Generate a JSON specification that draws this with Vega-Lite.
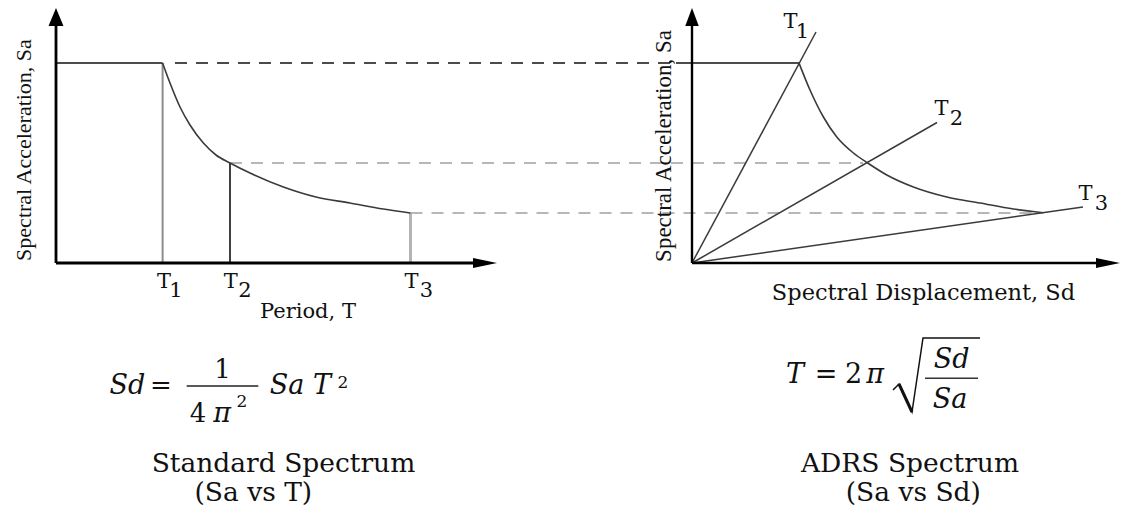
{
  "$schema": "https://vega.github.io/schema/vega-lite/v6.json",
  "width": 1126,
  "height": 511,
  "padding": 0,
  "autosize": {"type": "none"},
  "background": "#ffffff",
  "config": {"view": {"stroke": null}},
  "datasets": {
    "std_axes": [
      {"T": 0, "Sa": 0, "T_end": 0, "Sa_end": 1.205},
      {"T": 0, "Sa": 0, "T_end": 2.11, "Sa_end": 0}
    ],
    "std_arrow_up": [{"T": 0, "Sa": 1.23}],
    "std_arrow_right": [{"T": 2.145, "Sa": 0}],
    "std_plateau": [{"T": 0, "Sa": 1.0, "T_end": 0.533, "Sa_end": 1.0}],
    "std_proj_black": [{"T": 0.595, "Sa": 1.0, "T_end": 3.10, "Sa_end": 1.0}],
    "std_proj_gray": [
      {"T": 0.87, "Sa": 0.5, "T_end": 4.035, "Sa_end": 0.5},
      {"T": 1.7725, "Sa": 0.25, "T_end": 4.92, "Sa_end": 0.25}
    ],
    "periods": [
      {"period": "T1", "T": 0.533, "Sa": 0, "T_end": 0.533, "Sa_end": 1.0},
      {"period": "T2", "T": 0.87, "Sa": 0, "T_end": 0.87, "Sa_end": 0.5},
      {"period": "T3", "T": 1.7725, "Sa": 0, "T_end": 1.7725, "Sa_end": 0.25}
    ],
    "std_curve": [
      {"T": 0.533, "Sa": 1.0},
      {"T": 0.57, "Sa": 0.9},
      {"T": 0.62, "Sa": 0.78},
      {"T": 0.67, "Sa": 0.69},
      {"T": 0.737, "Sa": 0.6},
      {"T": 0.8, "Sa": 0.54},
      {"T": 0.87, "Sa": 0.5},
      {"T": 0.97, "Sa": 0.45},
      {"T": 1.137, "Sa": 0.38},
      {"T": 1.3, "Sa": 0.33},
      {"T": 1.47, "Sa": 0.3},
      {"T": 1.637, "Sa": 0.27},
      {"T": 1.7725, "Sa": 0.25}
    ],
    "std_labels": [
      {"T": 0.54, "Sa": -0.125, "label": "T"},
      {"T": 0.6, "Sa": -0.17, "label": "1"},
      {"T": 0.874, "Sa": -0.125, "label": "T"},
      {"T": 0.945, "Sa": -0.17, "label": "2"},
      {"T": 1.7775, "Sa": -0.125, "label": "T"},
      {"T": 1.8525, "Sa": -0.17, "label": "3"},
      {"T": 1.26, "Sa": -0.275, "label": "Period, T"}
    ],
    "std_ytitle": [{"T": -0.125, "Sa": 0.565, "label": "Spectral Acceleration, Sa"}],
    "std_formula_italic": [
      {"T": 0.3575, "Sa": -0.655, "label": "Sd"},
      {"T": 0.83, "Sa": -0.7935, "label": "π"},
      {"T": 1.155, "Sa": -0.655, "label": "Sa"},
      {"T": 1.33, "Sa": -0.655, "label": "T"}
    ],
    "std_formula_upright": [
      {"T": 0.525, "Sa": -0.655, "label": "="},
      {"T": 0.8325, "Sa": -0.575, "label": "1"},
      {"T": 0.71, "Sa": -0.7935, "label": "4"}
    ],
    "std_formula_sup": [
      {"T": 0.93, "Sa": -0.72, "label": "2"},
      {"T": 1.435, "Sa": -0.625, "label": "2"}
    ],
    "std_formula_bar": [{"T": 0.6535, "Sa": -0.615, "T_end": 1.0115, "Sa_end": -0.615}],
    "std_titles": [
      {"T": 1.1375, "Sa": -1.045, "label": "Standard Spectrum"},
      {"T": 0.9865, "Sa": -1.19, "label": "(Sa vs T)"}
    ],
    "adrs_axes": [
      {"Sd": 0, "Sa": 0, "Sd_end": 0, "Sa_end": 1.205},
      {"Sd": 0, "Sa": 0, "Sd_end": 2.04, "Sa_end": 0}
    ],
    "adrs_arrow_up": [{"Sd": 0, "Sa": 1.23}],
    "adrs_arrow_right": [{"Sd": 2.08, "Sa": 0}],
    "adrs_plateau": [{"Sd": -0.08, "Sa": 1.0, "Sd_end": 0.535, "Sa_end": 1.0}],
    "adrs_period_lines": [
      {"period": "T1", "Sd": 0, "Sa": 0, "Sd_end": 0.62, "Sa_end": 1.155},
      {"period": "T2", "Sd": 0, "Sa": 0, "Sd_end": 1.225, "Sa_end": 0.7025},
      {"period": "T3", "Sd": 0, "Sa": 0, "Sd_end": 1.955, "Sa_end": 0.28}
    ],
    "adrs_curve": [
      {"Sd": 0.535, "Sa": 1.0},
      {"Sd": 0.59, "Sa": 0.865},
      {"Sd": 0.657, "Sa": 0.73},
      {"Sd": 0.724, "Sa": 0.63},
      {"Sd": 0.807, "Sa": 0.55},
      {"Sd": 0.8785, "Sa": 0.5},
      {"Sd": 0.974, "Sa": 0.44},
      {"Sd": 1.107, "Sa": 0.38},
      {"Sd": 1.274, "Sa": 0.33},
      {"Sd": 1.44, "Sa": 0.3},
      {"Sd": 1.607, "Sa": 0.27},
      {"Sd": 1.7565, "Sa": 0.2516}
    ],
    "adrs_labels": [
      {"Sd": 0.4925, "Sa": 1.175, "label": "T"},
      {"Sd": 0.5525, "Sa": 1.125, "label": "1"},
      {"Sd": 1.2475, "Sa": 0.74, "label": "T"},
      {"Sd": 1.3225, "Sa": 0.69, "label": "2"},
      {"Sd": 1.9675, "Sa": 0.315, "label": "T"},
      {"Sd": 2.0475, "Sa": 0.265, "label": "3"}
    ],
    "adrs_xtitle": [{"Sd": 1.1575, "Sa": -0.185, "label": "Spectral Displacement, Sd"}],
    "adrs_ytitle": [{"Sd": -0.105, "Sa": 0.585, "label": "Spectral Acceleration, Sa"}],
    "adrs_formula_italic": [
      {"Sd": 0.515, "Sa": -0.6, "label": "T"},
      {"Sd": 0.915, "Sa": -0.6, "label": "π"},
      {"Sd": 1.2985, "Sa": -0.525, "label": "Sd"},
      {"Sd": 1.29, "Sa": -0.725, "label": "Sa"}
    ],
    "adrs_formula_upright": [
      {"Sd": 0.67, "Sa": -0.6, "label": "="},
      {"Sd": 0.8075, "Sa": -0.6, "label": "2"}
    ],
    "adrs_radical": [
      {"i": 0, "Sd": 1.005, "Sa": -0.635},
      {"i": 1, "Sd": 1.035, "Sa": -0.605},
      {"i": 2, "Sd": 1.1, "Sa": -0.745},
      {"i": 3, "Sd": 1.155, "Sa": -0.375},
      {"i": 4, "Sd": 1.44, "Sa": -0.375}
    ],
    "adrs_radical_stem": [{"Sd": 1.035, "Sa": -0.605, "Sd_end": 1.1, "Sa_end": -0.745}],
    "adrs_formula_bar": [{"Sd": 1.165, "Sa": -0.5765, "Sd_end": 1.43, "Sa_end": -0.5765}],
    "adrs_titles": [
      {"Sd": 1.09, "Sa": -1.045, "label": "ADRS Spectrum"},
      {"Sd": 1.1065, "Sa": -1.19, "label": "(Sa vs Sd)"}
    ]
  },
  "resolve": {"scale": {"x": "independent"}},
  "layer": [
    {
      "encoding": {
        "x": {"field": "T", "type": "quantitative", "scale": {"domain": [-0.28, 5.35], "nice": false, "zero": false}, "axis": null},
        "y": {"field": "Sa", "type": "quantitative", "scale": {"domain": [-1.24, 1.315], "nice": false, "zero": false}, "axis": null}
      },
      "layer": [
        {
          "data": {"name": "std_proj_black"},
          "mark": {"type": "rule", "stroke": "#111111", "strokeWidth": 1.6, "strokeDash": [12, 9]},
          "encoding": {"x2": {"field": "T_end"}, "y2": {"field": "Sa_end"}}
        },
        {
          "data": {"name": "std_proj_gray"},
          "mark": {"type": "rule", "stroke": "#a0a0a0", "strokeWidth": 1.6, "strokeDash": [12, 9]},
          "encoding": {"x2": {"field": "T_end"}, "y2": {"field": "Sa_end"}}
        },
        {
          "data": {"name": "periods"},
          "transform": [{"filter": "datum.period == 'T1'"}],
          "mark": {"type": "rule", "stroke": "#8c8c8c", "strokeWidth": 2},
          "encoding": {"x2": {"field": "T_end"}, "y2": {"field": "Sa_end"}}
        },
        {
          "data": {"name": "periods"},
          "transform": [{"filter": "datum.period == 'T2'"}],
          "mark": {"type": "rule", "stroke": "#404040", "strokeWidth": 2},
          "encoding": {"x2": {"field": "T_end"}, "y2": {"field": "Sa_end"}}
        },
        {
          "data": {"name": "periods"},
          "transform": [{"filter": "datum.period == 'T3'"}],
          "mark": {"type": "rule", "stroke": "#b4b4b4", "strokeWidth": 3},
          "encoding": {"x2": {"field": "T_end"}, "y2": {"field": "Sa_end"}}
        },
        {
          "data": {"name": "std_plateau"},
          "mark": {"type": "rule", "stroke": "#111111", "strokeWidth": 1.6},
          "encoding": {"x2": {"field": "T_end"}, "y2": {"field": "Sa_end"}}
        },
        {
          "data": {"name": "std_curve"},
          "mark": {"type": "line", "interpolate": "monotone", "stroke": "#3a3a3a", "strokeWidth": 1.6}
        },
        {
          "data": {"name": "std_axes"},
          "mark": {"type": "rule", "stroke": "#000000", "strokeWidth": 2.8},
          "encoding": {"x2": {"field": "T_end"}, "y2": {"field": "Sa_end"}}
        },
        {
          "data": {"name": "std_arrow_up"},
          "mark": {"type": "point", "shape": "M0,-1L-0.83,1L0.83,1Z", "size": 324, "filled": true, "color": "#000000", "opacity": 1}
        },
        {
          "data": {"name": "std_arrow_right"},
          "mark": {"type": "point", "shape": "M1,0L-1,-0.42L-1,0.42Z", "size": 576, "filled": true, "color": "#000000", "opacity": 1}
        },
        {
          "data": {"name": "std_labels"},
          "mark": {"type": "text", "font": "DejaVu Serif", "fontSize": 21, "align": "center", "baseline": "alphabetic", "color": "#111111"},
          "encoding": {"text": {"field": "label"}}
        },
        {
          "data": {"name": "std_ytitle"},
          "mark": {"type": "text", "font": "Liberation Serif", "fontSize": 22, "angle": 270, "align": "center", "baseline": "alphabetic", "color": "#111111"},
          "encoding": {"text": {"field": "label"}}
        },
        {
          "data": {"name": "std_formula_italic"},
          "mark": {"type": "text", "font": "DejaVu Serif", "fontStyle": "italic", "fontSize": 27, "align": "center", "baseline": "alphabetic", "color": "#111111"},
          "encoding": {"text": {"field": "label"}}
        },
        {
          "data": {"name": "std_formula_upright"},
          "mark": {"type": "text", "font": "DejaVu Serif", "fontSize": 26, "align": "center", "baseline": "alphabetic", "color": "#111111"},
          "encoding": {"text": {"field": "label"}}
        },
        {
          "data": {"name": "std_formula_sup"},
          "mark": {"type": "text", "font": "DejaVu Serif", "fontSize": 17, "align": "center", "baseline": "alphabetic", "color": "#111111"},
          "encoding": {"text": {"field": "label"}}
        },
        {
          "data": {"name": "std_formula_bar"},
          "mark": {"type": "rule", "stroke": "#222222", "strokeWidth": 1.6},
          "encoding": {"x2": {"field": "T_end"}, "y2": {"field": "Sa_end"}}
        },
        {
          "data": {"name": "std_titles"},
          "mark": {"type": "text", "font": "DejaVu Serif", "fontSize": 26.5, "align": "center", "baseline": "alphabetic", "color": "#111111"},
          "encoding": {"text": {"field": "label"}}
        }
      ]
    },
    {
      "encoding": {
        "x": {"field": "Sd", "type": "quantitative", "scale": {"domain": [-3.46, 2.17], "nice": false, "zero": false}, "axis": null},
        "y": {"field": "Sa", "type": "quantitative", "scale": {"domain": [-1.24, 1.315], "nice": false, "zero": false}, "axis": null}
      },
      "layer": [
        {
          "data": {"name": "adrs_plateau"},
          "mark": {"type": "rule", "stroke": "#111111", "strokeWidth": 1.6},
          "encoding": {"x2": {"field": "Sd_end"}, "y2": {"field": "Sa_end"}}
        },
        {
          "data": {"name": "adrs_period_lines"},
          "mark": {"type": "rule", "stroke": "#3a3a3a", "strokeWidth": 1.5},
          "encoding": {"x2": {"field": "Sd_end"}, "y2": {"field": "Sa_end"}}
        },
        {
          "data": {"name": "adrs_curve"},
          "mark": {"type": "line", "interpolate": "monotone", "stroke": "#3a3a3a", "strokeWidth": 1.6}
        },
        {
          "data": {"name": "adrs_axes"},
          "mark": {"type": "rule", "stroke": "#000000", "strokeWidth": 2.4},
          "encoding": {"x2": {"field": "Sd_end"}, "y2": {"field": "Sa_end"}}
        },
        {
          "data": {"name": "adrs_arrow_up"},
          "mark": {"type": "point", "shape": "M0,-1L-0.75,1L0.75,1Z", "size": 324, "filled": true, "color": "#000000", "opacity": 1}
        },
        {
          "data": {"name": "adrs_arrow_right"},
          "mark": {"type": "point", "shape": "M1,0L-1,-0.42L-1,0.42Z", "size": 576, "filled": true, "color": "#000000", "opacity": 1}
        },
        {
          "data": {"name": "adrs_labels"},
          "mark": {"type": "text", "font": "DejaVu Serif", "fontSize": 21, "align": "center", "baseline": "alphabetic", "color": "#111111"},
          "encoding": {"text": {"field": "label"}}
        },
        {
          "data": {"name": "adrs_xtitle"},
          "mark": {"type": "text", "font": "DejaVu Serif", "fontSize": 22.5, "align": "center", "baseline": "alphabetic", "color": "#111111"},
          "encoding": {"text": {"field": "label"}}
        },
        {
          "data": {"name": "adrs_ytitle"},
          "mark": {"type": "text", "font": "Liberation Serif", "fontSize": 23, "angle": 270, "align": "center", "baseline": "alphabetic", "color": "#111111"},
          "encoding": {"text": {"field": "label"}}
        },
        {
          "data": {"name": "adrs_formula_italic"},
          "mark": {"type": "text", "font": "DejaVu Serif", "fontStyle": "italic", "fontSize": 27, "align": "center", "baseline": "alphabetic", "color": "#111111"},
          "encoding": {"text": {"field": "label"}}
        },
        {
          "data": {"name": "adrs_formula_upright"},
          "mark": {"type": "text", "font": "DejaVu Serif", "fontSize": 27, "align": "center", "baseline": "alphabetic", "color": "#111111"},
          "encoding": {"text": {"field": "label"}}
        },
        {
          "data": {"name": "adrs_radical"},
          "mark": {"type": "line", "stroke": "#111111", "strokeWidth": 1.5, "strokeJoin": "miter"},
          "encoding": {"order": {"field": "i"}}
        },
        {
          "data": {"name": "adrs_radical_stem"},
          "mark": {"type": "rule", "stroke": "#111111", "strokeWidth": 3},
          "encoding": {"x2": {"field": "Sd_end"}, "y2": {"field": "Sa_end"}}
        },
        {
          "data": {"name": "adrs_formula_bar"},
          "mark": {"type": "rule", "stroke": "#333333", "strokeWidth": 1.6},
          "encoding": {"x2": {"field": "Sd_end"}, "y2": {"field": "Sa_end"}}
        },
        {
          "data": {"name": "adrs_titles"},
          "mark": {"type": "text", "font": "DejaVu Serif", "fontSize": 26.5, "align": "center", "baseline": "alphabetic", "color": "#111111"},
          "encoding": {"text": {"field": "label"}}
        }
      ]
    }
  ]
}
